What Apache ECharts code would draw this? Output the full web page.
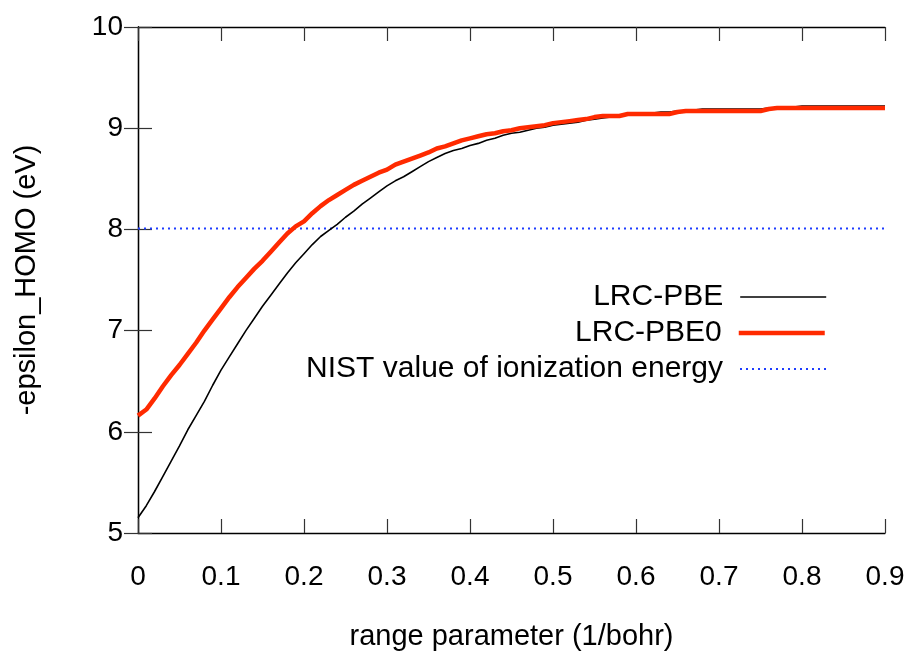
<!DOCTYPE html>
<html>
<head>
<meta charset="utf-8">
<script src="https://cdn.jsdelivr.net/npm/echarts@6/dist/echarts.min.js"></script>
<style>html,body{margin:0;padding:0;background:#fff}#c{width:912px;height:661px}</style>
</head>
<body>
<div id="c"></div>
<script>
var rangeParam = [0,0.01,0.02,0.03,0.04,0.05,0.06,0.07,0.08,0.09,
  0.10,0.11,0.12,0.13,0.14,0.15,0.16,0.17,0.18,0.19,
  0.20,0.21,0.22,0.23,0.24,0.25,0.26,0.27,0.28,0.29,
  0.30,0.31,0.32,0.33,0.34,0.35,0.36,0.37,0.38,0.39,
  0.40,0.41,0.42,0.43,0.44,0.45,0.46,0.47,0.48,0.49,
  0.50,0.51,0.52,0.53,0.54,0.55,0.56,0.57,0.58,0.59,
  0.60,0.61,0.62,0.63,0.64,0.65,0.66,0.67,0.68,0.69,
  0.70,0.71,0.72,0.73,0.74,0.75,0.76,0.77,0.78,0.79,
  0.80,0.81,0.82,0.83,0.84,0.85,0.86,0.87,0.88,0.89,0.90];

var lrcPBE = [5.15,5.27,5.41,5.56,5.71,5.86,6.02,6.16,6.30,6.46,
  6.61,6.74,6.87,7.00,7.12,7.24,7.35,7.46,7.57,7.67,
  7.76,7.85,7.93,7.99,8.05,8.12,8.18,8.25,8.31,8.37,
  8.43,8.48,8.52,8.57,8.62,8.67,8.71,8.75,8.78,8.80,
  8.83,8.85,8.88,8.90,8.93,8.95,8.96,8.98,9.00,9.01,
  9.03,9.04,9.05,9.06,9.08,9.09,9.10,9.11,9.12,9.13,
  9.14,9.14,9.15,9.16,9.16,9.17,9.17,9.18,9.19,9.19,
  9.19,9.19,9.19,9.19,9.19,9.19,9.20,9.20,9.21,9.21,
  9.22,9.22,9.22,9.22,9.22,9.22,9.22,9.22,9.22,9.22,9.22];

var lrcPBE0 = [6.16,6.22,6.33,6.45,6.56,6.66,6.77,6.88,7.00,7.11,
  7.22,7.33,7.43,7.52,7.61,7.69,7.78,7.87,7.96,8.03,
  8.08,8.16,8.23,8.29,8.34,8.39,8.44,8.48,8.52,8.56,
  8.59,8.64,8.67,8.70,8.73,8.76,8.80,8.82,8.85,8.88,
  8.90,8.92,8.94,8.95,8.97,8.98,9.00,9.01,9.02,9.03,
  9.05,9.06,9.07,9.08,9.09,9.11,9.12,9.12,9.12,9.14,
  9.14,9.14,9.14,9.14,9.14,9.16,9.17,9.17,9.17,9.17,
  9.17,9.17,9.17,9.17,9.17,9.17,9.19,9.20,9.20,9.20,
  9.20,9.20,9.20,9.20,9.20,9.20,9.20,9.20,9.20,9.20,9.20];

var nistX = [0, 0.9];
var nistValue = 8.01;

var seriesNames = ['LRC-PBE', 'LRC-PBE0', 'NIST value of ionization energy'];

function zip(xs, ys) { return xs.map(function (x, i) { return [x, ys[i]]; }); }

var FONT = 'Liberation Sans';
var chart = echarts.init(document.getElementById('c'), null, {renderer: 'canvas'});

function axisCommon(extra) {
  var base = {
    type: 'value',
    axisLine: {show: true, lineStyle: {color: '#000', width: 1.3}},
    axisTick: {show: true, inside: true, length: 14, lineStyle: {color: '#333', width: 1.2}},
    splitLine: {show: false},
    axisLabel: {show: false}
  };
  for (var k in extra) base[k] = extra[k];
  return base;
}

function legendFor(name, top, lineStyle) {
  return {
    data: [name],
    orient: 'vertical',
    right: 85,
    top: top,
    padding: 0,
    align: 'right',
    itemWidth: 86,
    itemHeight: 14,
    selectedMode: false,
    itemStyle: {opacity: 0},
    lineStyle: lineStyle,
    textStyle: {fontFamily: FONT, fontSize: 30, color: '#000', padding: [0, 12, 0, 0]}
  };
}

var option = {
  backgroundColor: '#fff',
  animation: false,
  grid: {left: 138, right: 27, top: 27, bottom: 128, containLabel: false},
  legend: [
    legendFor(seriesNames[0], 282, {width: 1.6, color: '#000'}),
    legendFor(seriesNames[1], 318, {width: 4.5, color: '#ff2a00'}),
    legendFor(seriesNames[2], 354, {width: 2, color: '#1e3cff', type: [2, 4]})
  ],
  xAxis: [
    axisCommon({
      position: 'bottom', min: 0, max: 0.9, interval: 0.1,
      axisLabel: {show: true, margin: 30, fontFamily: FONT, fontSize: 28, color: '#000'},
      name: 'range parameter (1/bohr)', nameLocation: 'middle', nameGap: 89,
      nameTextStyle: {fontFamily: FONT, fontSize: 29, color: '#000'}
    }),
    axisCommon({position: 'top', min: 0, max: 0.9, interval: 0.1})
  ],
  yAxis: [
    axisCommon({
      position: 'left', min: 5, max: 10, interval: 1,
      axisLabel: {show: true, margin: 15, fontFamily: FONT, fontSize: 28, color: '#000'},
      name: '-epsilon_HOMO (eV)', nameLocation: 'middle', nameGap: 97,
      nameTextStyle: {fontFamily: FONT, fontSize: 29, color: '#000'}
    }),
    axisCommon({position: 'right', min: 5, max: 10, interval: 1})
  ],
  series: [
    {
      name: seriesNames[0], type: 'line', data: zip(rangeParam, lrcPBE),
      symbol: 'none', lineStyle: {color: '#000', width: 1.6}, itemStyle: {color: '#000'}, z: 3
    },
    {
      name: seriesNames[1], type: 'line', data: zip(rangeParam, lrcPBE0),
      symbol: 'none', lineStyle: {color: '#ff2a00', width: 4.5}, itemStyle: {color: '#ff2a00'}, z: 4
    },
    {
      name: seriesNames[2], type: 'line', data: zip(nistX, [nistValue, nistValue]),
      symbol: 'none', lineStyle: {color: '#1e3cff', width: 2, type: [2, 4]}, itemStyle: {color: '#1e3cff'}, z: 2
    }
  ]
};
chart.setOption(option);
</script>
</body>
</html>
